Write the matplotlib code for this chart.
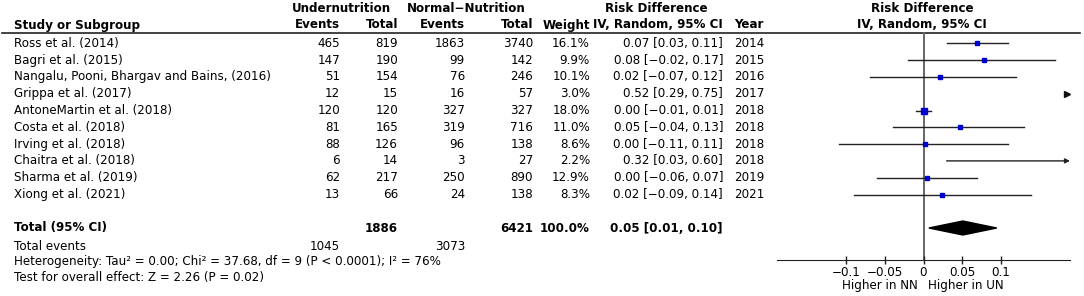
import matplotlib
matplotlib.use("Agg")
import matplotlib.pyplot as plt
import numpy as np

# data
studies = ["Ross et al. (2014)", "Bagri et al. (2015)",
           "Nangalu, Pooni, Bhargav and Bains, (2016)", "Grippa et al. (2017)",
           "AntoneMartin et al. (2018)", "Costa et al. (2018)",
           "Irving et al. (2018)", "Chaitra et al. (2018)",
           "Sharma et al. (2019)", "Xiong et al. (2021)"]
un_events = [465, 147, 51, 12, 120, 81, 88, 6, 62, 13]
un_total = [819, 190, 154, 15, 120, 165, 126, 14, 217, 66]
nn_events = [1863, 99, 76, 16, 327, 319, 96, 3, 250, 24]
nn_total = [3740, 142, 246, 57, 327, 716, 138, 27, 890, 138]
weight = [16.1, 9.9, 10.1, 3.0, 18.0, 11.0, 8.6, 2.2, 12.9, 8.3]
rd = [0.07, 0.08, 0.02, 0.52, 0.00, 0.05, 0.00, 0.32, 0.00, 0.02]
rd_lo = [0.03, -0.02, -0.07, 0.29, -0.01, -0.04, -0.11, 0.03, -0.06, -0.09]
rd_hi = [0.11, 0.17, 0.12, 0.75, 0.01, 0.13, 0.11, 0.60, 0.07, 0.14]
years = [2014, 2015, 2016, 2017, 2018, 2018, 2018, 2018, 2019, 2021]

# markers are drawn from the unrounded estimates
rd_plot = [0.070, 0.078, 0.022, 0.52, 0.000, 0.047, 0.002, 0.32, 0.005, 0.024]

total_un, total_nn = 1886, 6421
total_weight = 100.0
events_un, events_nn = 1045, 3073
pooled = (0.05, 0.01, 0.10)
pooled_plot = (0.051, 0.007, 0.095)
xticks = [-0.1, -0.05, 0, 0.05, 0.1]
xticklabels = ["\u22120.1", "\u22120.05", "0", "0.05", "0.1"]
het_text = "Heterogeneity: Tau\u00b2 = 0.00; Chi\u00b2 = 37.68, df = 9 (P < 0.0001); I\u00b2 = 76%"
test_text = "Test for overall effect: Z = 2.26 (P = 0.02)"

W, H = 1084, 296
fs = 8.6

def fmt(v):
    return f"{v:.2f}".replace("-", "\u2212")

fig = plt.figure(figsize=(W / 100, H / 100), dpi=100)
tab = fig.add_axes([0, 0, 1, 1])
tab.set_xlim(0, W)
tab.set_ylim(H, 0)
tab.axis("off")

x0, x1 = 777, 1070
ax = fig.add_axes([x0 / W, 0, (x1 - x0) / W, 1])
xmin, xmax = -0.19, 0.19
ax.set_xlim(xmin, xmax)
ax.set_ylim(H, 0)
ax.patch.set_alpha(0)

row_y = 43.3 + 16.8 * np.arange(len(studies))
y_total, y_events, y_het, y_test = 228, 246, 262, 278
y_axis = 260

# header
hd = dict(fontsize=fs, fontweight="bold", va="center")
tab.text(341, 9, "Undernutrition", ha="center", **hd)
tab.text(466, 9, "Normal\u2212Nutrition", ha="center", **hd)
tab.text(656, 9, "Risk Difference", ha="center", **hd)
tab.text(922, 9, "Risk Difference", ha="center", **hd)
tab.text(14, 25, "Study or Subgroup", ha="left", **hd)
tab.text(340, 25, "Events", ha="right", **hd)
tab.text(398, 25, "Total", ha="right", **hd)
tab.text(465, 25, "Events", ha="right", **hd)
tab.text(533, 25, "Total", ha="right", **hd)
tab.text(590, 25, "Weight", ha="right", **hd)
tab.text(723, 25, "IV, Random, 95% CI", ha="right", **hd)
tab.text(734, 25, "Year", ha="left", **hd)
tab.text(922, 25, "IV, Random, 95% CI", ha="center", **hd)
tab.plot([2, 1080], [33, 33], color="#222222", lw=1.2)

# study rows
td = dict(fontsize=fs, va="center")
for i, y in enumerate(row_y):
    tab.text(14, y, studies[i], ha="left", **td)
    tab.text(340, y, str(un_events[i]), ha="right", **td)
    tab.text(398, y, str(un_total[i]), ha="right", **td)
    tab.text(465, y, str(nn_events[i]), ha="right", **td)
    tab.text(533, y, str(nn_total[i]), ha="right", **td)
    tab.text(590, y, f"{weight[i]:.1f}%", ha="right", **td)
    tab.text(723, y, f"{fmt(rd[i])} [{fmt(rd_lo[i])}, {fmt(rd_hi[i])}]", ha="right", **td)
    tab.text(734, y, str(years[i]), ha="left", **td)

# totals
tab.text(14, y_total, "Total (95% CI)", ha="left", **hd)
tab.text(398, y_total, str(total_un), ha="right", **hd)
tab.text(533, y_total, str(total_nn), ha="right", **hd)
tab.text(590, y_total, f"{total_weight:.1f}%", ha="right", **hd)
tab.text(723, y_total, f"{fmt(pooled[0])} [{fmt(pooled[1])}, {fmt(pooled[2])}]", ha="right", **hd)
tab.text(14, y_events, "Total events", ha="left", **td)
tab.text(340, y_events, str(events_un), ha="right", **td)
tab.text(465, y_events, str(events_nn), ha="right", **td)
tab.text(14, y_het, het_text, ha="left", **td)
tab.text(14, y_test, test_text, ha="left", **td)

# forest plot
ax.plot([0, 0], [33, y_axis], color="#666666", lw=1.4, zorder=1)
for i, y in enumerate(row_y):
    lo, hi = rd_lo[i], rd_hi[i]
    if lo >= xmax:
        ax.plot([xmax - 0.004], [y], marker=">", ms=4, color="#111111",
                clip_on=False, zorder=3)
        continue
    if hi > xmax:
        ax.annotate("", xy=(xmax, y), xytext=(lo, y),
                    arrowprops=dict(arrowstyle="-|>", color="#222222", lw=1,
                                    mutation_scale=7, shrinkA=0, shrinkB=0))
    else:
        ax.plot([lo, hi], [y, y], color="#222222", lw=1, zorder=2)
    if xmin < rd_plot[i] < xmax:
        side = 1.2 * np.sqrt(weight[i])
        ax.plot([rd_plot[i]], [y], marker="s", ms=side * 0.72, color="#0000cc",
                mec="#0000cc", zorder=3)

est, plo, phi = pooled_plot
ax.fill([plo, est, phi, est], [y_total, y_total - 7, y_total, y_total + 7],
        color="black", zorder=3)

for s in ["top", "left", "right"]:
    ax.spines[s].set_visible(False)
ax.spines["bottom"].set_position(("data", y_axis))
ax.spines["bottom"].set_color("#222222")
ax.set_yticks([])
ax.set_xticks(xticks)
ax.set_xticklabels(xticklabels, fontsize=fs)
ax.tick_params(axis="x", direction="inout", length=6, width=1, color="#222222", pad=1)

tab.text(918, 285, "Higher in NN", ha="right", **td)
tab.text(928, 285, "Higher in UN", ha="left", **td)

fig.savefig("out.png", dpi=100)
